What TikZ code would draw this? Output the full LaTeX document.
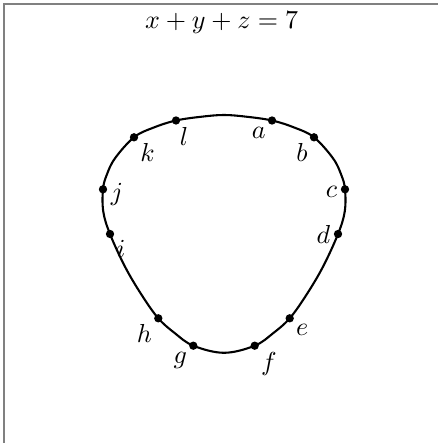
\documentclass[tikz,border=0pt]{standalone}
\usetikzlibrary{positioning}

\begin{document}
\begin{tikzpicture}[
  x=0.0135cm, y=-0.0135cm,
  dot/.style={circle, fill, inner sep=0pt, minimum size=3.2pt},
  curve/.style={line width=0.8pt},
  frm/.style={draw=gray, line width=0.7pt},
  every label/.append style={inner sep=1pt}
]
\useasboundingbox (0,0) rectangle (438,443);

% --- Moldura ---
\coordinate (fbl) at (4,443);
\coordinate (ftl) at (4,4);
\coordinate (ftr) at (438,4);
\draw[frm] (fbl) -- (ftl) -- (ftr);

% --- Título ---
\node (title) at (221.7,23) {$x+y+z=7$};

% --- Pontos da curva ---
\coordinate (pa) at (272,120.5);
\coordinate (pb) at (314,137.3);
\coordinate (pc) at (345,189.3);
\coordinate (pd) at (338,234);
\coordinate (pe) at (289.7,318.3);
\coordinate (pf) at (254.7,345.7);
\coordinate (pg) at (193.3,345.7);
\coordinate (ph) at (158.3,318.3);
\coordinate (pi) at (110,234);
\coordinate (pj) at (103,189.3);
\coordinate (pk) at (134,137.3);
\coordinate (pl) at (176,120.5);

\draw[curve] plot[smooth cycle, tension=0.6] coordinates
  {(224,115) (246.3,116.7) (pa) (294.7,127.7) (pb) (333,158.3) (341.3,175)
   (pc) (344.7,211.7) (pd) (323,266.7) (306.3,295) (pe) (273,333.3) (pf)
   (224,352.8)
   (pg) (175,333.3) (ph) (141.7,295) (125,266.7) (pi) (103.3,211.7) (pj)
   (106.7,175) (115,158.3) (pk) (153.3,127.7) (pl) (201.7,116.7)};

% --- Nós ---
\node[dot, label=below left:$a$]  (a) at (pa) {};
\node[dot, label=below left:$b$]  (b) at (pb) {};
\node[dot, label={[yshift=-1pt]left:$c$}] (c) at (pc) {};
\node[dot, label=left:$d$]        (d) at (pd) {};
\node[dot, label=below right:$e$] (e) at (pe) {};
\node[dot, label=below right:$f$] (f) at (pf) {};
\node[dot, label=below left:$g$]  (g) at (pg) {};
\node[dot, label=below left:$h$]  (h) at (ph) {};
\node[dot, label=below right:$i$] (i) at (pi) {};
\node[dot, label={[yshift=-2pt]right:$j$}] (j) at (pj) {};
\node[dot, label=below right:$k$] (k) at (pk) {};
\node[dot, label={[xshift=-1pt]below right:$l$}] (l) at (pl) {};

\end{tikzpicture}
\end{document}
